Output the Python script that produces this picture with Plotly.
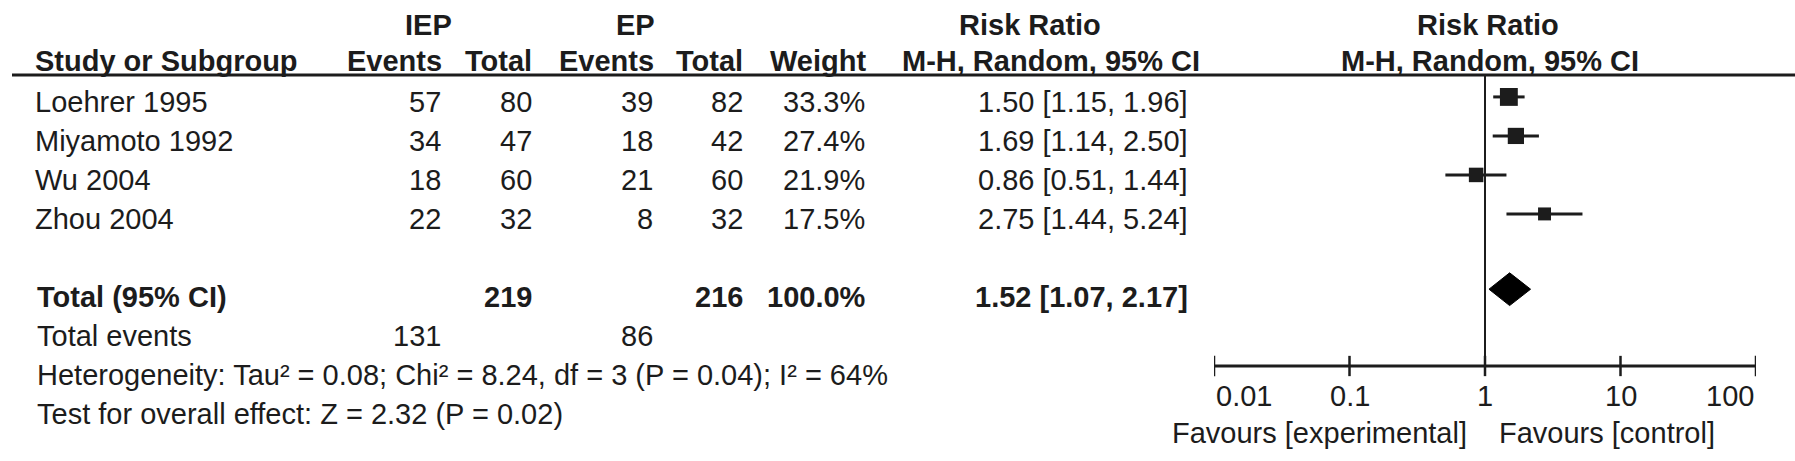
import math
import plotly.graph_objects as go

# ---------------- data ----------------
studies = ["Loehrer 1995", "Miyamoto 1992", "Wu 2004", "Zhou 2004"]
iep_events = [57, 34, 18, 22]
iep_total = [80, 47, 60, 32]
ep_events = [39, 18, 21, 8]
ep_total = [82, 42, 60, 32]
weights = [33.3, 27.4, 21.9, 17.5]
rr = [1.50, 1.69, 0.86, 2.75]
ci_lo = [1.15, 1.14, 0.51, 1.44]
ci_hi = [1.96, 2.50, 1.44, 5.24]

total_iep = 219
total_ep = 216
total_weight = 100.0
total_rr = 1.52
total_lo = 1.07
total_hi = 2.17
events_iep = 131
events_ep = 86

het_text = "Heterogeneity: Tau² = 0.08; Chi² = 8.24, df = 3 (P = 0.04); I² = 64%"
test_text = "Test for overall effect: Z = 2.32 (P = 0.02)"

tick_vals = [0.01, 0.1, 1, 10, 100]
tick_text = ["0.01", "0.1", "1", "10", "100"]
favours_left = "Favours [experimental]"
favours_right = "Favours [control]"

# ---------------- layout constants ----------------
W, H = 1795, 461
ROW0_PX, ROW_PX = 102, 39          # pixel centre of first row, row pitch
def r_of(p):
    return (p - ROW0_PX) / ROW_PX

FONT = "Liberation Sans, Arial, sans-serif"
FS = 29
COL = "#1c1c1c"
SQ_DY = -0.13
DIA_DY = -0.2

rows = list(range(len(studies)))
r_total = len(studies) + 1
r_events = r_total + 1
r_het = r_events + 1
r_test = r_het + 1
r_h1 = r_of(25)
r_h2 = r_of(61)
r_line = r_of(75)
r_axis = r_of(366)
r_ticklab = r_of(396)
r_fav = r_of(433)

def px(x):
    return x / W

fig = go.Figure()

# CI lines
for i in rows:
    fig.add_trace(go.Scatter(x=[ci_lo[i], ci_hi[i]], y=[i + SQ_DY, i + SQ_DY],
                             mode="lines", line=dict(color=COL, width=3),
                             hoverinfo="skip", showlegend=False))
# squares (size ~ sqrt(weight))
fig.add_trace(go.Scatter(x=rr, y=[i + SQ_DY for i in rows], mode="markers",
                         marker=dict(symbol="square", color=COL, opacity=1,
                                     size=[3.1 * w ** 0.5 for w in weights],
                                     line=dict(width=0)),
                         hoverinfo="skip", showlegend=False))
# pooled diamond
dh = 0.42
yc = r_total + DIA_DY
fig.add_trace(go.Scatter(x=[total_lo, total_rr, total_hi, total_rr, total_lo],
                         y=[yc, yc - dh, yc, yc + dh, yc],
                         mode="lines", fill="toself", fillcolor="#000000",
                         line=dict(color="#000000", width=1),
                         hoverinfo="skip", showlegend=False))
# line of no effect
fig.add_trace(go.Scatter(x=[1, 1], y=[r_line, r_axis], mode="lines",
                         line=dict(color=COL, width=2),
                         hoverinfo="skip", showlegend=False))
# axis line and crossing ticks
fig.add_trace(go.Scatter(x=[tick_vals[0], tick_vals[-1]], y=[r_axis, r_axis], mode="lines",
                         line=dict(color=COL, width=3), hoverinfo="skip", showlegend=False))
tx, ty = [], []
for v in tick_vals:
    tx += [v, v, None]
    ty += [r_axis - 0.26, r_axis + 0.26, None]
fig.add_trace(go.Scatter(x=tx, y=ty, mode="lines", line=dict(color=COL, width=2.5),
                         hoverinfo="skip", showlegend=False))

ann = []
def add(text, x, r, anchor="left", bold=False):
    t = f"<b>{text}</b>" if bold else text
    ann.append(dict(text=t, x=px(x), y=r, xref="paper", yref="y",
                    xanchor=anchor, yanchor="middle", showarrow=False,
                    font=dict(family=FONT, size=FS, color=COL)))

# tick labels (end labels aligned to the axis ends)
for k, (v, t) in enumerate(zip(tick_vals, tick_text)):
    anchor = "left" if k == 0 else ("right" if k == len(tick_vals) - 1 else "center")
    ann.append(dict(text=t, x=math.log10(v), y=r_ticklab, xref="x", yref="y",
                    xanchor=anchor, yanchor="middle", showarrow=False,
                    font=dict(family=FONT, size=FS, color=COL)))

# headers
add("IEP", 428, r_h1, "center", True)
add("EP", 635, r_h1, "center", True)
add("Risk Ratio", 1030, r_h1, "center", True)
add("Risk Ratio", 1488, r_h1, "center", True)
add("Study or Subgroup", 33, r_h2, "left", True)
add("Events", 444, r_h2, "right", True)
add("Total", 534, r_h2, "right", True)
add("Events", 656, r_h2, "right", True)
add("Total", 745, r_h2, "right", True)
add("Weight", 868, r_h2, "right", True)
add("M-H, Random, 95% CI", 1202, r_h2, "right", True)
add("M-H, Random, 95% CI", 1490, r_h2, "center", True)

for i in rows:
    add(studies[i], 33, i)
    add(str(iep_events[i]), 443, i, "right")
    add(str(iep_total[i]), 534, i, "right")
    add(str(ep_events[i]), 655, i, "right")
    add(str(ep_total[i]), 745, i, "right")
    add(f"{weights[i]:.1f}%", 867, i, "right")
    add(f"{rr[i]:.2f} [{ci_lo[i]:.2f}, {ci_hi[i]:.2f}]", 1190, i, "right")

add("Total (95% CI)", 35, r_total, "left", True)
add(str(total_iep), 534, r_total, "right", True)
add(str(total_ep), 745, r_total, "right", True)
add(f"{total_weight:.1f}%", 868, r_total, "right", True)
add(f"{total_rr:.2f} [{total_lo:.2f}, {total_hi:.2f}]", 1190, r_total, "right", True)

add("Total events", 35, r_events)
add(str(events_iep), 443, r_events, "right")
add(str(events_ep), 655, r_events, "right")
add(het_text, 35, r_het)
add(test_text, 35, r_test)

add(favours_left, 1469, r_fav, "right")
add(favours_right, 1497, r_fav, "left")

fig.update_layout(
    width=W, height=H, margin=dict(l=0, r=0, t=0, b=0),
    paper_bgcolor="white", plot_bgcolor="white",
    annotations=ann,
    shapes=[dict(type="line", xref="paper", yref="y", x0=px(12), x1=1,
                 y0=r_line, y1=r_line, line=dict(color=COL, width=3))],
    xaxis=dict(type="log", range=[-2, 2], domain=[px(1214), px(1756)],
               showticklabels=False, ticks="",
               showline=False, showgrid=False, zeroline=False),
    yaxis=dict(range=[r_of(H), r_of(0)], domain=[0, 1], visible=False,
               showgrid=False, zeroline=False),
)

fig.write_html("out.html", config={"displayModeBar": False, "staticPlot": True},
               post_script="document.body.style.margin='0';document.body.style.overflow='hidden';")
